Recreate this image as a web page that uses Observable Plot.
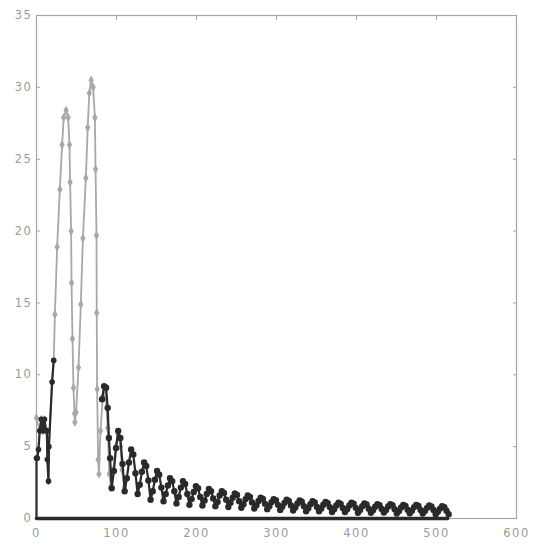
<!DOCTYPE html>
<html>
<head>
<meta charset="utf-8">
<script src="https://cdn.jsdelivr.net/npm/d3@7"></script>
<script src="https://cdn.jsdelivr.net/npm/@observablehq/plot@0.6"></script>
<style>
  html, body { margin: 0; padding: 0; background: #fff; }
  #chart text { letter-spacing: 1.6px; }
</style>
</head>
<body>
<div id="chart"></div>
<script>
// ---- tick labels ----
const xTicks = [0, 100, 200, 300, 400, 500, 600];
const yTicks = [0, 5, 10, 15, 20, 25, 30, 35];

// ---- gray series (two large peaks) ----
const grayX = [0, 4, 6, 8, 10, 12, 13, 15, 15.5, 19.5, 21.5, 23, 25.8, 29.2, 32, 34, 37, 39.6, 41.2, 42, 43.3,
  43.8, 45, 46.2, 47.5, 48, 49.5, 52.5, 55.4, 58, 61.7, 64, 66, 68.3, 70.8, 73, 73.8, 75, 75.3, 75.8, 77, 78,
  80, 83, 86, 89, 91, 93, 96, 99, 102, 105, 107, 110];
const grayY = [7.0, 6.1, 6.9, 6.1, 6.9, 6.1, 6.1, 2.6, 5.0, 9.5, 11.0, 14.2, 18.9, 22.9, 26.0, 27.9, 28.4, 27.9, 26.0, 23.4, 20.0,
  16.4, 12.5, 9.1, 7.3, 6.7, 7.4, 10.5, 14.9, 19.5, 23.7, 27.2, 29.6, 30.5, 30.0, 27.9, 24.3, 19.7, 14.3, 9.0, 4.1, 3.1,
  6.1, 8.5, 9.0, 6.3, 3.1, 2.2, 3.4, 5.0, 5.9, 5.0, 3.4, 2.2];

// ---- dark series, start (x 0..22) ----
const darkStartX = [0, 0, 1, 2.5, 4, 6, 8, 10, 12, 13, 13.5, 15, 15.5, 19.5, 21.5];
const darkStartY = [0, 4.2, 4.2, 4.8, 6.1, 6.9, 6.1, 6.9, 6.1, 6.1, 4.1, 2.6, 5.0, 9.5, 11.0];

// ---- dark series, first damped peak ----
const darkHeadX = [82, 84.5, 87, 89, 90.5, 92];
const darkHeadY = [8.3, 9.2, 9.1, 7.7, 5.6, 4.2];

// ---- dark series, damped oscillation sampled every 2.7 from x = 94 ----
const darkTailStart = 94;
const darkTailStep = 2.7;
const darkTailY = [
  2.1, 3.3, 4.9, 6.1, 5.6, 3.8,
  1.9, 2.8, 3.9, 4.8, 4.45, 3.15,
  1.7, 2.35, 3.25, 3.9, 3.65, 2.65,
  1.3, 1.9, 2.7, 3.3, 3.05, 2.15,
  1.2, 1.7, 2.3, 2.8, 2.6, 1.9,
  1.05, 1.5, 2.15, 2.6, 2.4, 1.7,
  0.95, 1.35, 1.85, 2.25, 2.1, 1.5,
  0.9, 1.25, 1.7, 2.05, 1.9, 1.4,
  0.85, 1.15, 1.6, 1.9, 1.77, 1.3,
  0.8, 1.1, 1.45, 1.75, 1.63, 1.2,
  0.75, 1.0, 1.35, 1.6, 1.5, 1.12,
  0.7, 0.92, 1.22, 1.45, 1.36, 1.02,
  0.65, 0.86, 1.14, 1.35, 1.27, 0.95,
  0.6, 0.81, 1.09, 1.3, 1.22, 0.9,
  0.55, 0.76, 1.04, 1.25, 1.17, 0.85,
  0.5, 0.71, 0.99, 1.2, 1.12, 0.8,
  0.5, 0.7, 0.96, 1.15, 1.07, 0.78,
  0.45, 0.65, 0.91, 1.1, 1.02, 0.73,
  0.45, 0.64, 0.9, 1.1, 1.03, 0.74,
  0.4, 0.6, 0.86, 1.05, 0.97, 0.68,
  0.4, 0.58, 0.82, 1.0, 0.93, 0.66,
  0.41, 0.59, 0.83, 1.0, 0.92, 0.65,
  0.35, 0.53, 0.77, 0.95, 0.88, 0.61,
  0.36, 0.54, 0.78, 0.95, 0.87, 0.6,
  0.35, 0.52, 0.74, 0.9, 0.83, 0.59,
  0.3, 0.47, 0.69, 0.85, 0.79, 0.54,
  0.3
];

// ---- baseline trace ----
const baseX = [0, 514];
const baseY = [0, 0];

// build tables
const gray = grayX.map((x, i) => ({x, y: grayY[i]}));
const darkStart = darkStartX.map((x, i) => ({x, y: darkStartY[i]}));
const darkLate = darkHeadX.map((x, i) => ({x, y: darkHeadY[i]}))
  .concat(darkTailY.map((y, i) => ({x: darkTailStart + i * darkTailStep, y})));
const base = baseX.map((x, i) => ({x, y: baseY[i]}));

const grayC = "#a8a8a8";
const darkC = "#2a2a2a";
const axisC = "#a6a6a6";

const chart = Plot.plot({
  width: 544,
  height: 546,
  marginLeft: 36,
  marginRight: 28,
  marginTop: 15,
  marginBottom: 28,
  x: {domain: [0, 600]},
  y: {domain: [0, 35]},
  style: {fontFamily: "DejaVu Sans, sans-serif", fontSize: "11.5px", color: "#9a9a9a"},
  marks: [
    Plot.frame({stroke: axisC, strokeWidth: 1.2}),
    Plot.axisY({anchor: "left", ticks: yTicks, tickSize: 0, tickPadding: 4, label: null}),
    Plot.axisX({anchor: "bottom", ticks: xTicks, tickSize: 0, tickPadding: 10, label: null}),
    Plot.axisY({anchor: "left", ticks: yTicks, tickSize: 4, dx: 4, text: null, label: null, stroke: axisC}),
    Plot.axisY({anchor: "right", ticks: yTicks, tickSize: 4, dx: -4, text: null, label: null, stroke: axisC}),
    Plot.axisX({anchor: "top", ticks: xTicks, tickSize: 4, dy: 4, text: null, label: null, stroke: axisC}),
    Plot.line(gray, {x: "x", y: "y", stroke: grayC, strokeWidth: 1.8, curve: "linear"}),
    Plot.dot(gray, {x: "x", y: "y", r: 2.8, fill: grayC, symbol: "diamond"}),
    Plot.line(darkStart, {x: "x", y: "y", stroke: darkC, strokeWidth: 2.2, curve: "linear"}),
    Plot.dot(darkStart.slice(1), {x: "x", y: "y", r: 2.8, fill: darkC}),
    Plot.line(darkLate, {x: "x", y: "y", stroke: darkC, strokeWidth: 2.2, curve: "linear"}),
    Plot.dot(darkLate, {x: "x", y: "y", r: 3.2, fill: darkC}),
    Plot.line(base, {x: "x", y: "y", stroke: darkC, strokeWidth: 3.5})
  ]
});
document.getElementById("chart").appendChild(chart);
</script>
</body>
</html>
